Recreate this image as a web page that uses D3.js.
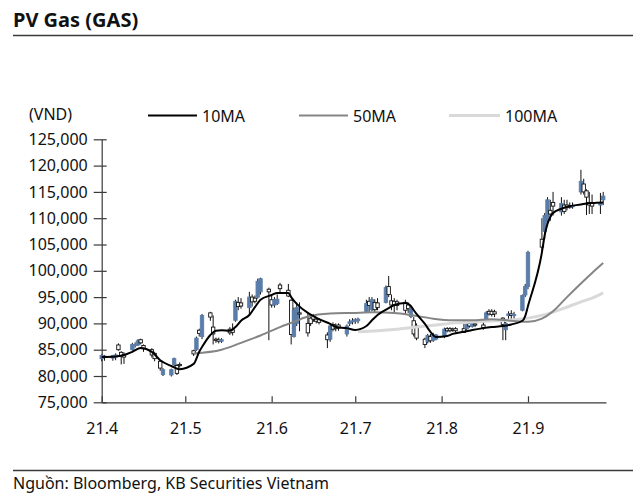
<!DOCTYPE html>
<html><head><meta charset="utf-8">
<script src="https://cdn.jsdelivr.net/npm/d3@7"></script>
<style>
body{margin:0;background:#fff}
svg{display:block}
text{font-family:"Noto Sans",sans-serif}
</style>
</head><body>
<svg id="c" width="640" height="498"></svg>
<script>
// ---------- data ----------
const title = "PV Gas (GAS)";
const unitLabel = "(VND)";
const sourceText = "Nguồn: Bloomberg, KB Securities Vietnam";
const seriesNames = ["10MA", "50MA", "100MA"];

const dates = [
"2021-04-01","2021-04-02","2021-04-05","2021-04-06","2021-04-07","2021-04-08","2021-04-09","2021-04-12","2021-04-13","2021-04-14",
"2021-04-15","2021-04-16","2021-04-19","2021-04-20","2021-04-22","2021-04-23","2021-04-26","2021-04-27","2021-04-28","2021-04-29",
"2021-05-04","2021-05-05","2021-05-06","2021-05-07","2021-05-10","2021-05-11","2021-05-12","2021-05-13","2021-05-14","2021-05-17",
"2021-05-18","2021-05-19","2021-05-20","2021-05-21","2021-05-24","2021-05-25","2021-05-26","2021-05-27","2021-05-28","2021-05-31",
"2021-06-01","2021-06-02","2021-06-03","2021-06-04","2021-06-07","2021-06-08","2021-06-09","2021-06-10","2021-06-11","2021-06-14",
"2021-06-15","2021-06-16","2021-06-17","2021-06-18","2021-06-21","2021-06-22","2021-06-23","2021-06-24","2021-06-25","2021-06-28",
"2021-06-29","2021-06-30","2021-07-01","2021-07-02","2021-07-05","2021-07-06","2021-07-07","2021-07-08","2021-07-09","2021-07-12",
"2021-07-13","2021-07-14","2021-07-15","2021-07-16","2021-07-19","2021-07-20","2021-07-21","2021-07-22","2021-07-23","2021-07-26",
"2021-07-27","2021-07-28","2021-07-29","2021-07-30","2021-08-02","2021-08-03","2021-08-04","2021-08-05","2021-08-06","2021-08-09",
"2021-08-10","2021-08-11","2021-08-12","2021-08-13","2021-08-16","2021-08-17","2021-08-18","2021-08-19","2021-08-20","2021-08-23",
"2021-08-24","2021-08-25","2021-08-26","2021-08-27","2021-08-30","2021-08-31","2021-09-01","2021-09-06","2021-09-07","2021-09-08",
"2021-09-09","2021-09-10","2021-09-13","2021-09-14","2021-09-15","2021-09-16","2021-09-17","2021-09-20","2021-09-21","2021-09-22",
"2021-09-23","2021-09-24","2021-09-27","2021-09-28"];

const open = [
83300,83500,83400,83600,85900,84500,84000,85000,85800,85900,
86900,85800,85000,84300,82800,80300,80200,82200,82000,82200,
84800,85000,88700,87500,92000,89300,87000,86900,86600,88900,
88800,90600,94000,93900,93000,95000,94800,95000,96000,96500,
94500,93500,93800,97300,96300,94400,87500,90000,92000,90000,
91000,91500,90800,90700,87800,87000,89800,89500,89700,88000,
90000,90300,90400,90500,92200,94200,92600,94000,93900,94000,
97000,94300,94200,94100,94000,93500,91300,90500,89500,87000,
86500,87500,86800,87000,87600,89000,89000,88900,89000,89000,
89000,90000,89400,89900,89700,90800,92300,92300,92200,91000,
88800,91500,91800,91600,92500,95400,97000,106000,107500,109500,
111500,113000,111200,112500,112500,112300,112200,115000,116500,115200,
113000,112800,112500,113500];

const high = [
84100,84000,84000,84300,86200,84700,84500,86300,86400,87000,
87100,86000,85300,84600,83000,81500,81400,83500,82300,82600,
85000,87500,89000,91800,92200,91500,87300,87300,87200,89300,
90000,94500,95000,94800,96000,95500,95300,98500,98700,96800,
95500,95000,95500,97700,97500,94600,93000,94000,94000,92000,
91500,91800,91200,91000,88300,89800,90200,90000,90000,89800,
90800,91000,91000,91100,94500,95000,95000,94600,94800,97200,
99000,95500,94800,94500,94500,94000,93300,91200,90000,87300,
88000,88000,88200,88000,89200,89300,89300,89200,89300,90500,
90000,90200,90300,90300,90200,92300,92700,92700,92600,91200,
90300,92300,92500,92200,95500,97500,103800,110000,111000,114000,
113500,115000,114000,113500,113500,113000,113000,119200,117500,115500,
115000,114500,114800,115000];

const low = [
82800,82900,82900,83000,84800,82200,82300,84800,85400,85700,
86000,84600,83500,82800,81000,80000,79900,81800,80200,81600,
83800,84800,87500,87000,90500,86000,86300,86200,86300,87800,
87700,90300,92500,92800,91500,93200,93800,94700,95500,86800,
93000,93000,93500,95800,95000,86000,87300,89500,88500,87500,
89500,90300,90000,89800,85300,86500,88500,88500,88600,87500,
89500,89800,89900,90000,92000,92000,92300,92000,92500,93800,
95000,92500,92000,92500,91800,92000,91000,87500,86800,85300,
86200,86300,86500,86800,87200,88300,88300,88400,88300,88200,
88700,89200,89200,89300,88800,90500,91500,91300,91200,86800,
86800,90800,90500,90800,92300,95000,96500,103800,106000,109000,
109500,110500,110500,110800,111500,111800,111800,114500,114500,110600,
110800,110800,110800,112500];

const close = [
83900,83800,83900,84000,85000,83800,83600,86000,86000,86700,
86300,85200,84000,83300,81500,81200,81200,83300,80500,82000,
84200,87200,88100,91500,91200,88000,86800,86600,86900,88200,
88300,94200,93200,93300,95000,94100,94200,98000,98500,96000,
93500,94500,94600,96600,95200,87900,92500,93000,91800,88200,
90000,90800,90400,90200,86900,89500,88900,89000,89100,89500,
90300,90500,90700,90800,93800,93400,94500,92600,93000,96800,
95500,93500,93500,93400,92500,92800,92800,88000,87200,86000,
87700,86700,87800,87800,88900,88600,88600,88700,88600,88300,
89800,89500,90000,89700,89200,92000,91800,91700,91800,89800,
90000,91800,91500,91700,95300,97000,103500,104500,110500,113500,
110800,112300,112800,111300,112000,112100,112400,117000,115000,114000,
112500,112300,112900,114200];

const ma10Dates = [
"2021-04-01","2021-04-06","2021-04-09","2021-04-12","2021-04-15","2021-04-19","2021-04-22","2021-04-26","2021-04-29","2021-05-04",
"2021-05-06","2021-05-07","2021-05-10","2021-05-12","2021-05-14","2021-05-17","2021-05-19","2021-05-21","2021-05-24","2021-05-26",
"2021-05-28","2021-06-01","2021-06-03","2021-06-07","2021-06-08","2021-06-10","2021-06-14","2021-06-16","2021-06-18","2021-06-22",
"2021-06-24","2021-06-28","2021-07-01","2021-07-05","2021-07-07","2021-07-09","2021-07-13","2021-07-15","2021-07-19","2021-07-20",
"2021-07-21","2021-07-22","2021-07-23","2021-07-26","2021-07-28","2021-07-30","2021-08-03","2021-08-05","2021-08-09","2021-08-12",
"2021-08-16","2021-08-19","2021-08-23","2021-08-26","2021-08-30","2021-08-31","2021-09-01","2021-09-06","2021-09-07","2021-09-08",
"2021-09-09","2021-09-10","2021-09-13","2021-09-14","2021-09-16","2021-09-20","2021-09-22","2021-09-24","2021-09-28"];
const ma10 = [
83600,83700,84000,84600,85300,84600,83000,81900,81300,82300,
84600,85500,87800,88600,88700,88600,89300,90500,91600,93100,
94500,95400,95800,95800,95000,93700,92000,91400,90800,89900,
89300,89100,88750,89500,90600,91600,92900,93500,93900,93700,
93300,92500,91800,89900,88400,87400,87600,88000,88400,88750,
89100,89300,89500,89800,90500,91400,93300,103500,106800,108900,
110200,111000,111800,112000,112300,112600,112800,112900,113000];

const ma50Dates = [
"2021-05-04","2021-05-14","2021-05-21","2021-05-28","2021-06-04","2021-06-08","2021-06-14","2021-06-22","2021-06-30","2021-07-08",
"2021-07-15","2021-07-22","2021-07-29","2021-08-05","2021-08-12","2021-08-19","2021-08-26","2021-09-01","2021-09-06","2021-09-10",
"2021-09-15","2021-09-20","2021-09-24","2021-09-28"];
const ma50 = [
84300,85000,86300,87700,89300,90100,91300,91900,92000,92100,
92000,91500,90900,90600,90600,90800,90500,90300,90900,92300,
95000,97600,99600,101500];

const ma100Dates = [
"2021-07-02","2021-07-09","2021-07-16","2021-07-23","2021-07-30","2021-08-06","2021-08-13","2021-08-20","2021-08-27","2021-09-01",
"2021-09-08","2021-09-14","2021-09-20","2021-09-24","2021-09-28"];
const ma100 = [
88400,88600,88900,89300,89700,90100,90300,90500,90700,91000,
91800,92900,94100,94800,95800];

const yTicks = [75000,80000,85000,90000,95000,100000,105000,110000,115000,120000,125000];
const xTickDates = ["2021-04-01","2021-05-01","2021-06-01","2021-07-01","2021-08-01","2021-09-01"];
const xTickLabels = ["21.4","21.5","21.6","21.7","21.8","21.9"];

// ---------- drawing ----------
(function () {
const parse = d3.timeParse("%Y-%m-%d");
const svg = d3.select("#c");
const pL = 101.7, pR = 606, pT = 139.3, pB = 402.3;

const x = d3.scaleTime()
  .domain([parse("2021-04-01"), parse("2021-09-29")])
  .range([pL, pR]);
const y = d3.scaleLinear().domain([75000, 125000]).range([pB, pT]);

const ink = "#3a3a3a";

// title & rules
svg.append("text").attr("x", 13).attr("y", 27)
  .attr("font-size", 20).attr("font-weight", 700).attr("fill", "#111").text(title);
svg.append("line").attr("x1", 13).attr("x2", 633).attr("y1", 35.5).attr("y2", 35.5)
  .attr("stroke", ink).attr("stroke-width", 1.6);
svg.append("line").attr("x1", 13).attr("x2", 633).attr("y1", 470.5).attr("y2", 470.5)
  .attr("stroke", ink).attr("stroke-width", 1.6);
svg.append("text").attr("x", 13).attr("y", 489).attr("font-size", 16).attr("fill", "#111").text(sourceText);

// unit label
svg.append("text").attr("x", 29).attr("y", 120).attr("font-size", 16).attr("fill", "#111").text(unitLabel);

// legend
const legendStyle = [
  {x1: 148, x2: 197, tx: 202, color: "#000000", w: 2},
  {x1: 299, x2: 348, tx: 353, color: "#858585", w: 2},
  {x1: 449, x2: 500, tx: 505, color: "#d9d9d9", w: 3}
];
seriesNames.forEach((name, i) => {
  const s = legendStyle[i];
  svg.append("line").attr("x1", s.x1).attr("x2", s.x2).attr("y1", 115.5).attr("y2", 115.5)
    .attr("stroke", s.color).attr("stroke-width", s.w);
  svg.append("text").attr("x", s.tx).attr("y", 121.5).attr("font-size", 16).attr("fill", "#111").text(name);
});

// axes
const yAxis = svg.append("g").attr("transform", `translate(${pL},0)`)
  .call(d3.axisLeft(y).tickValues(yTicks).tickSize(8).tickSizeOuter(0).tickPadding(6)
    .tickFormat(d3.format(",")));
yAxis.select(".domain").attr("stroke", ink).attr("stroke-width", 1.2);
yAxis.selectAll(".tick line").attr("x1", 5).attr("stroke", ink).attr("stroke-width", 1.2);
yAxis.selectAll(".tick text").attr("font-size", 16).attr("fill", "#111")
  .attr("font-family", "Noto Sans, sans-serif");

const xAxis = svg.append("g").attr("transform", `translate(0,${pB})`)
  .call(d3.axisBottom(x).tickValues(xTickDates.map(parse)).tickSize(-6).tickSizeOuter(0).tickPadding(20)
    .tickFormat((d, i) => xTickLabels[i]));
xAxis.select(".domain").attr("stroke", ink).attr("stroke-width", 1.2);
xAxis.selectAll(".tick line").attr("stroke", ink).attr("stroke-width", 1.2);
xAxis.selectAll(".tick text").attr("font-size", 16).attr("fill", "#111")
  .attr("font-family", "Noto Sans, sans-serif");

// candles
const candles = dates.map((d, i) => ({t: parse(d), o: open[i], h: high[i], l: low[i], c: close[i]}));
const bw = 3.4;
const cg = svg.append("g");
cg.selectAll("line.wick").data(candles).join("line").attr("class", "wick")
  .attr("x1", d => x(d.t)).attr("x2", d => x(d.t))
  .attr("y1", d => y(d.h)).attr("y2", d => y(d.l))
  .attr("stroke", "#111").attr("stroke-width", 1);
cg.selectAll("rect").data(candles).join("rect")
  .attr("x", d => x(d.t) - bw / 2).attr("width", bw)
  .attr("y", d => y(Math.max(d.o, d.c)))
  .attr("height", d => Math.max(1.2, Math.abs(y(d.o) - y(d.c))))
  .attr("fill", d => d.c >= d.o ? "#5a7da9" : "#ffffff")
  .attr("stroke", d => d.c >= d.o ? "#5a7da9" : "#111")
  .attr("stroke-width", 0.9);

// moving averages
const line = d3.line().x(d => x(d.t)).y(d => y(d.v)).curve(d3.curveMonotoneX);
const mk = (ds, vs) => ds.map((d, i) => ({t: parse(d), v: vs[i]}));
svg.append("path").datum(mk(ma100Dates, ma100)).attr("d", line)
  .attr("fill", "none").attr("stroke", "#d9d9d9").attr("stroke-width", 3);
svg.append("path").datum(mk(ma50Dates, ma50)).attr("d", line)
  .attr("fill", "none").attr("stroke", "#858585").attr("stroke-width", 2);
svg.append("path").datum(mk(ma10Dates, ma10)).attr("d", line)
  .attr("fill", "none").attr("stroke", "#000").attr("stroke-width", 2);
})();
</script>
</body></html>
